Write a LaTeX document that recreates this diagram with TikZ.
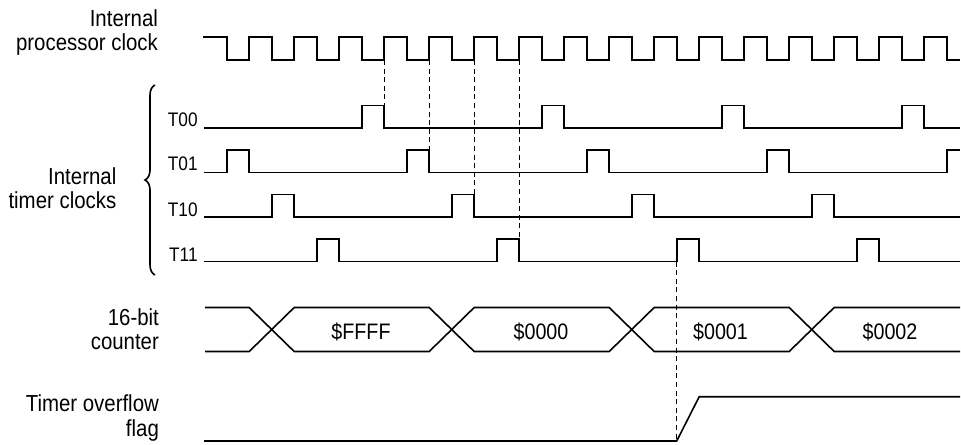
\documentclass[tikz,border=0pt]{standalone}
\usepackage{fontspec}
\setmainfont[FakeStretch=0.88]{Liberation Sans}
\usetikzlibrary{decorations.pathreplacing}

\tikzset{
    wave/.style={line width=0.8pt},
    guide/.style={line width=0.5pt, dash pattern=on 2.5pt off 1.8pt},
    sig/.style={anchor=east, align=right, inner sep=0pt, font=\fontsize{11.6}{12.2}\selectfont},
    tname/.style={anchor=base east, inner sep=0pt, font=\fontsize{9.8}{11}\selectfont},
    word/.style={anchor=base, inner sep=0pt, font=\fontsize{11.2}{12}\selectfont},
}

\begin{document}
\begin{tikzpicture}[x=0.5pt,y=-0.5pt]
    \useasboundingbox (0,0) rectangle (961,444);
    \node[sig] (clk) at (158.3,32.3) {Internal\\processor clock};
    \node[sig] (tim) at (116.7,188) {Internal\\timer clocks};
    \node[sig] (cnt) at (159.3,329) {16-bit\\counter};
    \node[sig] (ovf) at (159.3,418) {Timer overflow\\flag};
    \node[tname] (t00) at (198,126.7) {T00};
    \node[tname] (t01) at (198,170.7) {T01};
    \node[tname] (t10) at (198,216.7) {T10};
    \node[tname] (t11) at (198,261) {T11};
    \draw[line width=0.8pt, decorate, decoration={brace,amplitude=5pt,aspect=0.5}] (155,275) -- (155,85);
    % processor clock
    \draw[wave] (203,37) foreach \k in {0,...,15} { -- ({226.7+45*\k},37) -- ({226.7+45*\k},60) -- ({249.2+45*\k},60) -- ({249.2+45*\k},37) } -- (946.7,37) -- (946.7,60) -- (960,60);
    % timer clocks
    \draw[wave] (204,128) foreach \s in {361.7,541.7,721.7,901.7} { -- (\s,128) -- (\s,105.5) -- ({\s+22.5},105.5) -- ({\s+22.5},128) } -- (960,128);
    \draw[wave] (204,172.5) foreach \s in {226.7,406.7,586.7,766.7} { -- (\s,172.5) -- (\s,150) -- ({\s+22.5},150) -- ({\s+22.5},172.5) } -- (946.7,172.5) -- (946.7,150) -- (960,150);
    \draw[wave] (204,217) foreach \s in {271.7,451.7,631.7,811.7} { -- (\s,217) -- (\s,194.5) -- ({\s+22.5},194.5) -- ({\s+22.5},217) } -- (960,217);
    \draw[wave] (204,261.5) foreach \s in {316.7,496.7,676.7,856.7} { -- (\s,261.5) -- (\s,239) -- ({\s+22.5},239) -- ({\s+22.5},261.5) } -- (960,261.5);
    % 16-bit counter
    \draw[wave] (205,307.5) -- (249.2,307.5) -- (271.7,329.5) -- (249.2,351.5) -- (205,351.5);
    \foreach \c in {271.7,451.7,631.7}
        \draw[wave] ({\c+22.5},307.5) -- ({\c+157.5},307.5) -- ({\c+180},329.5) -- ({\c+157.5},351.5) -- ({\c+22.5},351.5) -- (\c,329.5) -- cycle;
    \draw[wave] (960,307.5) -- (834.2,307.5) -- (811.7,329.5) -- (834.2,351.5) -- (960,351.5);
    \node[word] (v0) at (361,339.3) {\$FFFF};
    \node[word] (v1) at (541,339.3) {\$0000};
    \node[word] (v2) at (720.5,339.3) {\$0001};
    \node[word] (v3) at (890,339.3) {\$0002};
    % overflow flag
    \coordinate (set) at (676.7,441);
    \draw[wave] (204,441) -- (set) -- (699.2,396.7) -- (960,396.7);
    % guides
    \foreach \x/\y [count=\i] in {384.2/105.5, 429.2/150, 474.2/194.5, 519.2/239} {
        \coordinate (g\i) at (\x,60);
        \coordinate (h\i) at (\x,\y);
        \draw[guide] (g\i) -- (h\i);
    }
    \coordinate (trig) at (676.7,261.5);
    \draw[guide] (trig) -- (set);
\end{tikzpicture}
\end{document}
